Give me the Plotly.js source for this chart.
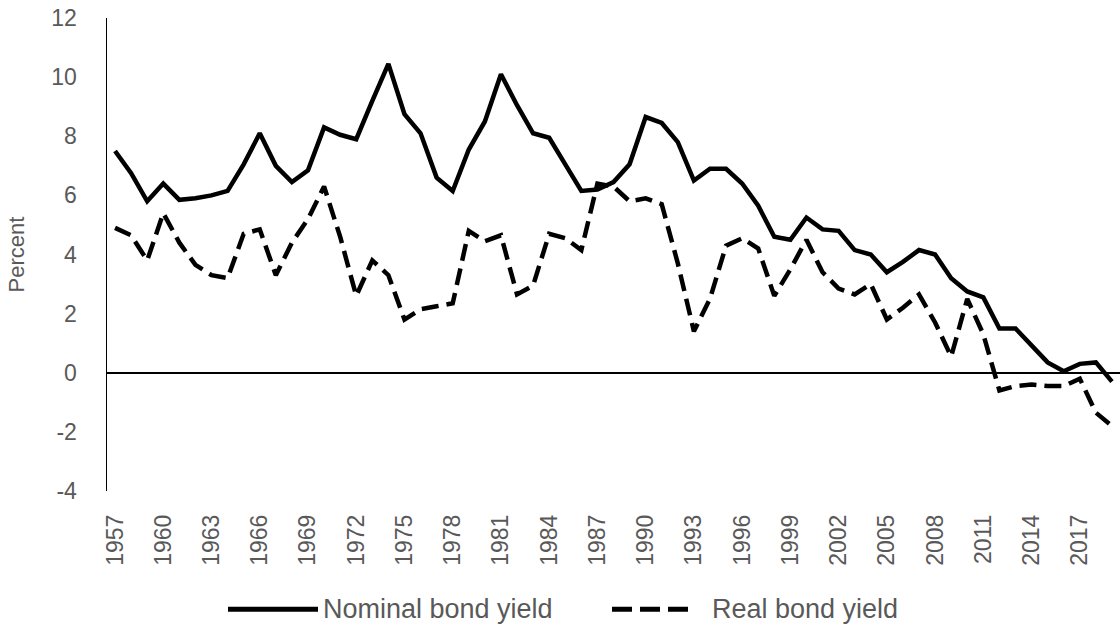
<!DOCTYPE html>
<html>
<head>
<meta charset="utf-8">
<script src="https://cdn.plot.ly/plotly-3.0.1.min.js"></script>
<style>html,body{margin:0;padding:0;background:#fff;}#chart{width:1120px;height:628px;}</style>
</head>
<body>
<div id="chart"></div>
<script>
const years = [];
for (let y = 1957; y <= 2019; y++) years.push(y);

const nominalYield = [7.5,6.75,5.8,6.4,5.85,5.9,6.0,6.15,7.05,8.1,
  7.0,6.45,6.85,8.3,8.05,7.9,9.2,10.45,8.75,8.1,
  6.6,6.15,7.55,8.5,10.1,9.05,8.1,7.95,7.05,6.15,
  6.2,6.45,7.05,8.65,8.45,7.8,6.5,6.9,6.9,6.4,
  5.65,4.6,4.5,5.25,4.85,4.8,4.15,4.0,3.4,3.75,
  4.15,4.0,3.2,2.75,2.55,1.5,1.5,0.95,0.35,0.05,
  0.3,0.35,-0.3];

const realYield = [4.9,4.65,3.8,5.4,4.4,3.65,3.3,3.2,4.7,4.85,
  3.3,4.4,5.2,6.3,4.6,2.6,3.8,3.3,1.8,2.15,
  2.25,2.35,4.8,4.45,4.65,2.65,2.95,4.7,4.55,4.15,
  6.4,6.3,5.8,5.9,5.7,3.7,1.4,2.5,4.3,4.55,
  4.2,2.6,3.5,4.5,3.4,2.85,2.65,3.0,1.8,2.2,
  2.65,1.7,0.55,2.5,1.3,-0.6,-0.45,-0.4,-0.45,-0.45,
  -0.2,-1.35,-1.8];

const seriesNames = ['Nominal bond yield', 'Real bond yield'];
const xTickLabels = [];
for (let y = 1957; y <= 2017; y += 3) xTickLabels.push(y);
const yTicks = [-4,-2,0,2,4,6,8,10,12];
const yTickText = ['-4','-2','0','2','4','6','8','10','12'];

const FONT = '"Liberation Sans", Arial, sans-serif';
const GREY = '#595959';

const traces = [
  {x: years, y: nominalYield, type: 'scatter', mode: 'lines', name: seriesNames[0],
   line: {color: '#000', width: 4.5, dash: 'solid'}, showlegend: false},
  {x: years, y: realYield, type: 'scatter', mode: 'lines', name: seriesNames[1],
   line: {color: '#000', width: 4.5, dash: '17px,8px'}, showlegend: false}
];

// custom legend (paper coords)
const L = 107, W = 1013, T = 18, H = 473.5;
const px = v => (v - L) / W;
const py = v => (T + H - v) / H;
const legY = 610;

const layout = {
  width: 1120, height: 628,
  margin: {l: L, r: 0, t: T, b: 628 - T - H},
  paper_bgcolor: '#fff', plot_bgcolor: '#fff',
  font: {family: FONT, color: GREY},
  showlegend: false,
  xaxis: {
    range: [1956.5, 2019.5], tickmode: 'array', tickvals: xTickLabels,
    ticktext: xTickLabels.map(String), tickangle: -90,
    showgrid: false, zeroline: false, showline: false, ticks: '',
    ticklabelstandoff: 18,
    tickfont: {family: FONT, size: 23, color: GREY}
  },
  yaxis: {
    range: [-4, 12], tickmode: 'array', tickvals: yTicks, ticktext: yTickText,
    showgrid: false, zeroline: true, zerolinecolor: '#000', zerolinewidth: 1.5,
    showline: true, linecolor: '#000', linewidth: 1.5, ticks: '',
    ticklabelstandoff: 24,
    tickfont: {family: FONT, size: 23, color: GREY},
    title: {text: 'Percent', standoff: 20, font: {family: FONT, size: 22, color: GREY}}
  },
  shapes: [
    {type: 'line', xref: 'paper', yref: 'paper', x0: px(228), x1: px(318), y0: py(legY), y1: py(legY),
     line: {color: '#000', width: 5}},
    {type: 'line', xref: 'paper', yref: 'paper', x0: px(612), x1: px(695), y0: py(legY), y1: py(legY),
     line: {color: '#000', width: 5, dash: '20px,8px'}}
  ],
  annotations: [
    {xref: 'paper', yref: 'paper', x: px(321), y: py(legY), xanchor: 'left', yanchor: 'middle',
     showarrow: false, text: seriesNames[0], font: {family: FONT, size: 27, color: GREY}},
    {xref: 'paper', yref: 'paper', x: px(710), y: py(legY), xanchor: 'left', yanchor: 'middle',
     showarrow: false, text: seriesNames[1], font: {family: FONT, size: 27, color: GREY}}
  ]
};

Plotly.newPlot('chart', traces, layout, {staticPlot: true, displayModeBar: false});
</script>
</body>
</html>
